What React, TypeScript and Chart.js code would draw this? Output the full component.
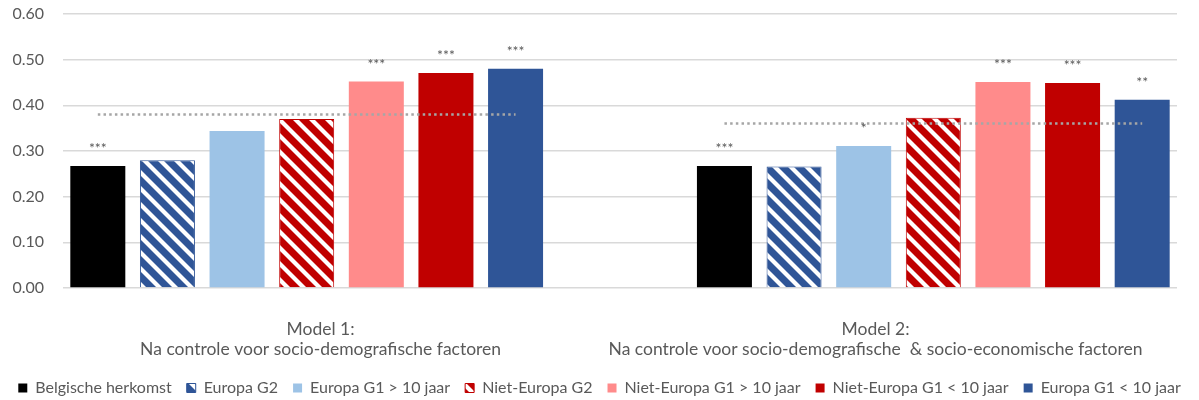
import React, { useEffect, useRef } from 'react';
import { Chart, registerables } from 'chart.js';

Chart.register(...registerables);

// ---------- data ----------
const seriesNames = [
  'Belgische herkomst',
  'Europa G2',
  'Europa G1 > 10 jaar',
  'Niet-Europa G2',
  'Niet-Europa G1 > 10 jaar',
  'Niet-Europa G1 < 10 jaar',
  'Europa G1 < 10 jaar',
];
const model1Values = [0.267, 0.28, 0.344, 0.37, 0.452, 0.471, 0.48];
const model2Values = [0.267, 0.266, 0.311, 0.373, 0.451, 0.449, 0.412];
const model1Stars = ['***', '', '', '', '***', '***', '***'];
const model2Stars = ['***', '', '*', '', '***', '***', '**'];
const model1Average = 0.38;
const model2Average = 0.36;
const model1Label = ['Model 1:', 'Na controle voor socio-demografische factoren'];
const model2Label = ['Model 2:', 'Na controle voor socio-demografische  & socio-economische factoren'];
const yTickValues = [0, 0.1, 0.2, 0.3, 0.4, 0.5, 0.6];

// ---------- styles ----------
const seriesColors = ['#000000', '#2F5597', '#9DC3E6', '#C00000', '#FF8B8B', '#C00000', '#2F5597'];
const seriesHatched = [false, true, false, true, false, false, false];
const FONT = 'Lato, "Open Sans", sans-serif';
const TEXT = '#595959';
const GAP_SLOTS = 2;
const N = seriesNames.length;
const TOTAL_SLOTS = N * 2 + GAP_SLOTS;
const slotOf = (model: number, s: number) => model * (N + GAP_SLOTS) + s;
const MODEL_LABEL_POS = [3.2, 11.17];

function makeHatch(color: string): CanvasPattern | string {
  const P = 16;
  const c = document.createElement('canvas');
  c.width = P;
  c.height = P;
  const g = c.getContext('2d');
  if (!g) return color;
  g.fillStyle = color;
  g.fillRect(0, 0, P, P);
  g.strokeStyle = '#ffffff';
  g.lineWidth = 4.2;
  for (const k of [-P, 0, P]) {
    g.beginPath();
    g.moveTo(k - 2, -2);
    g.lineTo(k + P + 2, P + 2);
    g.stroke();
  }
  const pat = g.createPattern(c, 'repeat');
  return pat || color;
}

const starsPlugin = {
  id: 'stars',
  afterDatasetsDraw(chart: any) {
    const ctx = chart.ctx;
    ctx.save();
    ctx.font = `14px ${FONT}`;
    ctx.fillStyle = TEXT;
    ctx.textAlign = 'center';
    ctx.textBaseline = 'alphabetic';
    for (let s = 0; s < N; s++) {
      const meta = chart.getDatasetMeta(s);
      [model1Stars, model2Stars].forEach((stars, m) => {
        const el = meta.data[slotOf(m, s)];
        const txt = stars[s];
        if (txt && el) ctx.fillText(txt, el.x, el.y - 13);
      });
    }
    ctx.restore();
  },
};

export default function App() {
  const ref = useRef<HTMLCanvasElement>(null);

  useEffect(() => {
    if (!ref.current) return;
    const labels = Array.from({ length: TOTAL_SLOTS }, (_, i) => String(i));
    const barSets = seriesNames.map((name, s) => {
      const data: (number | null)[] = Array(TOTAL_SLOTS).fill(null);
      data[slotOf(0, s)] = model1Values[s];
      data[slotOf(1, s)] = model2Values[s];
      const bg = seriesHatched[s] ? makeHatch(seriesColors[s]) : seriesColors[s];
      return {
        type: 'bar' as const,
        label: name,
        data,
        backgroundColor: bg,
        borderColor: seriesColors[s],
        borderWidth: seriesHatched[s] ? 1 : 0,
        grouped: false,
        barPercentage: 0.79,
        categoryPercentage: 1,
        order: 1,
      };
    });
    const avgData: (number | null)[] = Array(TOTAL_SLOTS).fill(null);
    for (let s = 0; s < N; s++) {
      avgData[slotOf(0, s)] = model1Average;
      avgData[slotOf(1, s)] = model2Average;
    }
    const avgSet = {
      type: 'line' as const,
      label: 'avg',
      data: avgData,
      borderColor: '#A6A6A6',
      borderWidth: 2.5,
      borderDash: [2.5, 3.2],
      pointRadius: 0,
      spanGaps: false,
      fill: false,
      order: 0,
    };

    const chart = new Chart(ref.current, {
      type: 'bar',
      data: { labels, datasets: [...barSets, avgSet] as any },
      options: {
        animation: false,
        responsive: false,
        layout: { padding: { left: 0, right: 0, top: 14, bottom: -6 } },
        plugins: {
          legend: {
            position: 'bottom',
            labels: {
              filter: (item: any) => item.datasetIndex < N,
              boxWidth: 9,
              boxHeight: 9,
              padding: 15,
              color: TEXT,
              font: { family: FONT, size: 16 },
            },
          },
          tooltip: { enabled: false },
        },
        scales: {
          x: { display: false },
          x2: {
            type: 'linear',
            position: 'bottom',
            offset: false,
            min: -0.5,
            max: TOTAL_SLOTS - 0.5,
            grid: { display: false, drawTicks: false },
            border: { display: false },
            afterBuildTicks: (axis: any) => {
              axis.ticks = MODEL_LABEL_POS.map((v) => ({ value: v }));
            },
            ticks: {
              autoSkip: false,
              maxRotation: 0,
              minRotation: 0,
              padding: 32,
              color: TEXT,
              font: { family: FONT, size: 17.5, lineHeight: 1.12 },
              callback: (v: any) => (Number(v) < TOTAL_SLOTS / 2 ? model1Label : model2Label),
            },
            afterFit: (scale: any) => {
              scale.height = 77;
            },
          },
          y: {
            min: 0,
            max: 0.6,
            afterBuildTicks: (axis: any) => {
              axis.ticks = yTickValues.map((v) => ({ value: v }));
            },
            grid: {
              color: '#D9D9D9',
              lineWidth: 1.5,
              drawTicks: true,
              tickLength: 15,
              tickColor: 'rgba(0,0,0,0)',
            },
            border: { display: false },
            ticks: {
              padding: 4,
              color: TEXT,
              font: { family: FONT, size: 16 },
              callback: (v: any) => Number(v).toFixed(2),
            },
            afterFit: (scale: any) => {
              scale.width = 63;
            },
          },
          yRight: {
            type: 'linear',
            position: 'right',
            display: true,
            grid: { display: false, drawTicks: false },
            border: { display: false },
            ticks: { display: false, padding: 0 },
            afterFit: (scale: any) => {
              scale.width = 22;
            },
          },
        },
      },
      plugins: [starsPlugin],
    });
    return () => chart.destroy();
  }, []);

  return (
    <div style={{ position: 'fixed', left: 0, top: 0, width: 1199, height: 400, background: '#fff' }}>
      <canvas ref={ref} width={1199} height={400} style={{ width: 1199, height: 400 }} />
    </div>
  );
}
